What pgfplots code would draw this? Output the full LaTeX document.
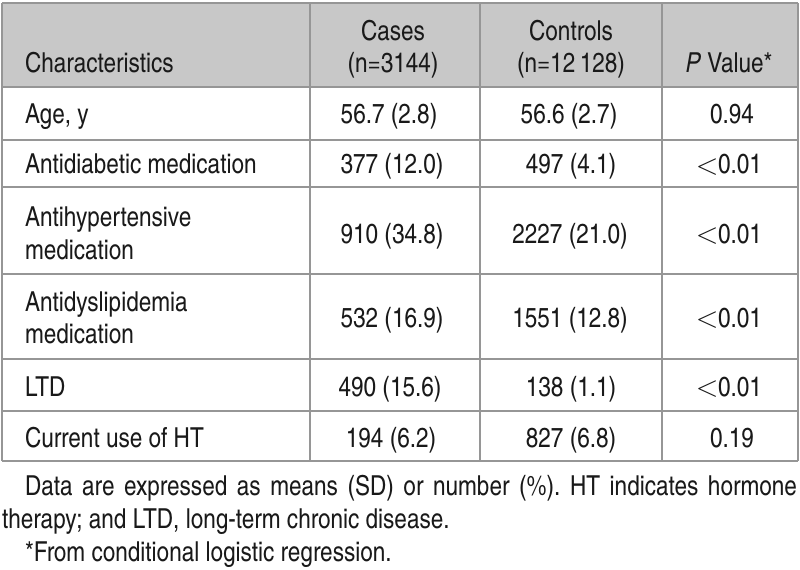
\documentclass[border=0pt]{standalone}
\usepackage{fontspec}
\setmainfont{texgyreheroscn}[Extension=.otf, UprightFont=*-regular, ItalicFont=*-italic, BoldFont=*-bold]
\usepackage{graphicx}
\usepackage{pgfplots}
\pgfplotsset{compat=1.18}
\definecolor{hdr}{RGB}{200,200,200}
\definecolor{rule}{RGB}{150,150,150}
\definecolor{txt}{RGB}{25,25,25}
\newcommand{\fs}{\fontsize{27.5bp}{33bp}\selectfont}
\newcommand{\lt}{\raisebox{-0.8bp}{\scalebox{1.2}{$<$}}\kern-0.5bp}
\tikzset{t/.style={inner sep=0pt, outer sep=0pt, text=txt, font=\fs}}
\frenchspacing
\begin{document}
\begin{tikzpicture}
\begin{axis}[width=800bp, height=570bp, scale only axis,
  xmin=0, xmax=800, ymin=0, ymax=570, y dir=reverse,
  hide axis, clip=false]
% background
\addplot[fill=white, draw=none] coordinates {(0,0) (800,0) (800,570) (0,570) (0,0)};
% header fill
\addplot[fill=hdr, draw=none] coordinates {(2,3) (798,3) (798,87) (2,87) (2,3)};
% horizontal rules
\addplot[rule, line width=1.6bp] coordinates {(2,3) (798,3)};
\addplot[rule, line width=1.6bp] coordinates {(2,87) (798,87)};
\addplot[rule, line width=1.6bp] coordinates {(2,140) (798,140)};
\addplot[rule, line width=1.6bp] coordinates {(2,187) (798,187)};
\addplot[rule, line width=1.6bp] coordinates {(2,274) (798,274)};
\addplot[rule, line width=1.6bp] coordinates {(2,359) (798,359)};
\addplot[rule, line width=1.6bp] coordinates {(2,411) (798,411)};
\addplot[rule, line width=1.6bp] coordinates {(2,461) (798,461)};
% vertical rules
\addplot[rule, line width=1.6bp] coordinates {(2,3) (2,461)};
\addplot[rule, line width=1.6bp] coordinates {(310,3) (310,461)};
\addplot[rule, line width=1.6bp] coordinates {(480,3) (480,461)};
\addplot[rule, line width=1.6bp] coordinates {(662,3) (662,461)};
\addplot[rule, line width=1.6bp] coordinates {(798,3) (798,461)};
% header text
\node[t, anchor=base west] at (axis cs:25,73) {Characteristics};
\node[t, anchor=base] at (axis cs:393,41) {Cases};
\node[t, anchor=base] at (axis cs:393,73) {(n=3144)};
\node[t, anchor=base] at (axis cs:571,41) {Controls};
\node[t, anchor=base] at (axis cs:571,73) {(n=12\,128)};
\node[t, anchor=base] at (axis cs:729,73) {\textit{P} Value*};
% column 1
\node[t, anchor=base west] at (axis cs:25,124) {Age, y};
\node[t, anchor=base west] at (axis cs:25,174) {Antidiabetic medication};
\node[t, anchor=base west] at (axis cs:25,227) {Antihypertensive};
\node[t, anchor=base west] at (axis cs:25,259) {medication};
\node[t, anchor=base west] at (axis cs:25,311) {Antidyslipidemia};
\node[t, anchor=base west] at (axis cs:25,343) {medication};
\node[t, anchor=base west] at (axis cs:25,396) {LTD};
\node[t, anchor=base west] at (axis cs:25,447) {Current use of HT};
% cases
\node[t, anchor=base] at (axis cs:389,124) {56.7 (2.8)};
\node[t, anchor=base] at (axis cs:392,174) {377 (12.0)};
\node[t, anchor=base] at (axis cs:392,243) {910 (34.8)};
\node[t, anchor=base] at (axis cs:392,327) {532 (16.9)};
\node[t, anchor=base] at (axis cs:390,396) {490 (15.6)};
\node[t, anchor=base] at (axis cs:391,447) {194 (6.2)};
% controls
\node[t, anchor=base] at (axis cs:569,124) {56.6 (2.7)};
\node[t, anchor=base] at (axis cs:571,174) {497 (4.1)};
\node[t, anchor=base] at (axis cs:570,243) {2227 (21.0)};
\node[t, anchor=base] at (axis cs:570,327) {1551 (12.8)};
\node[t, anchor=base] at (axis cs:571,396) {138 (1.1)};
\node[t, anchor=base] at (axis cs:571,447) {827 (6.8)};
% p values
\node[t, anchor=base] at (axis cs:732,124) {0.94};
\node[t, anchor=base] at (axis cs:729,174) {\lt0.01};
\node[t, anchor=base] at (axis cs:729,243) {\lt0.01};
\node[t, anchor=base] at (axis cs:729,327) {\lt0.01};
\node[t, anchor=base] at (axis cs:729,396) {\lt0.01};
\node[t, anchor=base] at (axis cs:732,447) {0.19};
% footnotes
\node[t, anchor=base west] at (axis cs:25,495) {\makebox[772bp][s]{Data are expressed as means (SD) or number (\%). HT indicates hormone}};
\node[t, anchor=base west] at (axis cs:2,528) {therapy; and LTD, long-term chronic disease.};
\node[t, anchor=base west] at (axis cs:25,561) {*From conditional logistic regression.};
\end{axis}
\end{tikzpicture}
\end{document}
